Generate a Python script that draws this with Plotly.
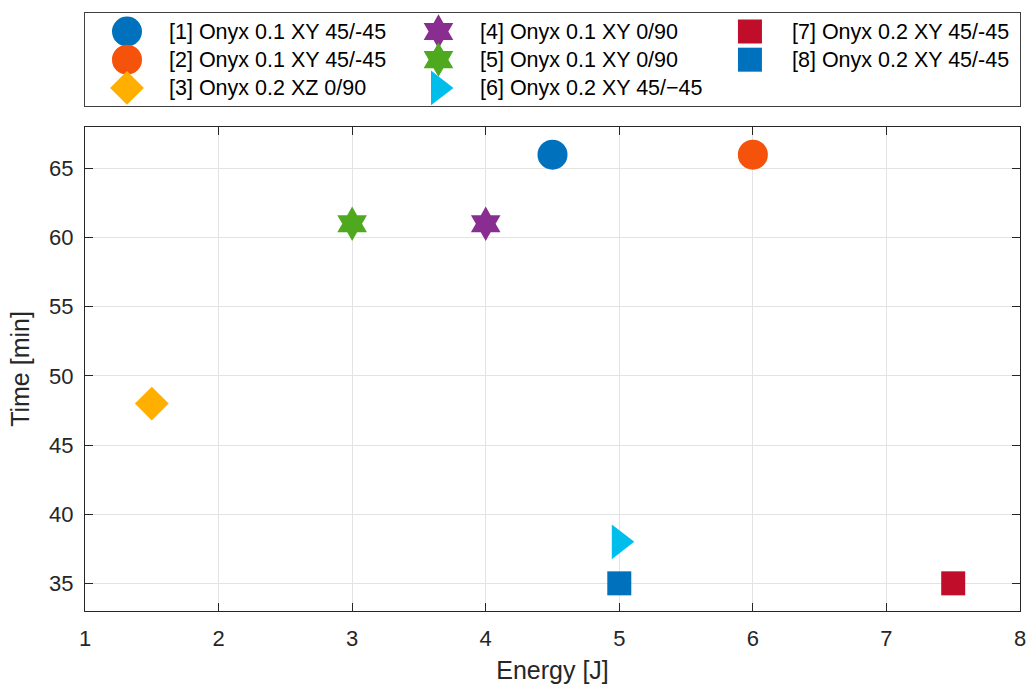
import plotly.graph_objects as go

# ---- data ----
labels = ["[1] Onyx 0.1 XY 45/-45", "[2] Onyx 0.1 XY 45/-45", "[3] Onyx 0.2 XZ 0/90",
          "[4] Onyx 0.1 XY 0/90", "[5] Onyx 0.1 XY 0/90", "[6] Onyx 0.2 XY 45/\u221245",
          "[7] Onyx 0.2 XY 45/-45", "[8] Onyx 0.2 XY 45/-45"]
energy = [4.5, 6.0, 1.5, 4.0, 3.0, 5.0, 7.5, 5.0]
time_min = [66, 66, 48, 61, 61, 38, 35, 35]
colors = ["#0072BD", "#F5520C", "#FFAF00", "#8A2D91", "#4EA91F", "#00BEEC", "#C00D2A", "#0072BD"]
symbols = ["circle", "circle", "diamond", "hexagram", "hexagram", "triangle-right", "square", "square"]
sizes = [30, 30, 26, 26, 26, 30, 24, 24]
x_ticks = [1, 2, 3, 4, 5, 6, 7, 8]
y_ticks = [35, 40, 45, 50, 55, 60, 65]

FONT = "Liberation Sans, Arial, sans-serif"
TXT = "#262626"

fig = go.Figure()
for i in range(len(labels)):
    fig.add_trace(go.Scatter(
        x=[energy[i]], y=[time_min[i]], mode="markers", name=labels[i], showlegend=False,
        marker=dict(color=colors[i], symbol=symbols[i], size=sizes[i], line=dict(width=0)),
        xaxis="x", yaxis="y"))

# legend drawn on an overlay axis: column = i // 3, row = i % 3
for i in range(len(labels)):
    col, row = i // 3, i % 3
    fig.add_trace(go.Scatter(
        x=[col], y=[row], mode="markers", showlegend=False, hoverinfo="skip",
        marker=dict(color=colors[i], symbol=symbols[i], size=sizes[i], line=dict(width=0)),
        xaxis="x2", yaxis="y2"))
    fig.add_annotation(x=col, y=row, xref="x2", yref="y2", text=labels[i], showarrow=False,
                       xanchor="left", yanchor="middle", xshift=40,
                       font=dict(family=FONT, size=21.5, color="#000000"))

axis_common = dict(showline=True, linecolor=TXT, linewidth=1, mirror="ticks",
                   ticks="inside", ticklen=8, tickcolor=TXT, showgrid=True,
                   gridcolor="#E3E3E3", gridwidth=1, zeroline=False, automargin=False,
                   tickfont=dict(family=FONT, size=22, color=TXT))

fig.update_layout(
    width=1030, height=690,
    margin=dict(l=85, r=10, t=13, b=79, autoexpand=False),
    paper_bgcolor="white", plot_bgcolor="white",
    showlegend=False,
    xaxis=dict(range=[1, 8], tickvals=x_ticks, domain=[0, 1], anchor="y",
               title=dict(text="Energy [J]", font=dict(family=FONT, size=25, color=TXT), standoff=11),
               ticklabelstandoff=8, **axis_common),
    yaxis=dict(range=[33, 68], tickvals=y_ticks, domain=[0, 0.8094], anchor="x",
               title=dict(text="Time [min]", font=dict(family=FONT, size=25, color=TXT), standoff=12),
               ticklabelstandoff=6, **axis_common),
    xaxis2=dict(range=[-0.1348, 2.867], domain=[0, 1], anchor="y2", showgrid=False,
                showticklabels=False, ticks="", zeroline=False, showline=True, mirror=True,
                linecolor="#404040", linewidth=1, fixedrange=True, automargin=False),
    yaxis2=dict(range=[2.642, -0.656], domain=[0.8445, 1.0], anchor="x2", showgrid=False,
                showticklabels=False, ticks="", zeroline=False, showline=True, mirror=True,
                linecolor="#404040", linewidth=1, fixedrange=True, automargin=False),
)

fig.write_html("out.html")
